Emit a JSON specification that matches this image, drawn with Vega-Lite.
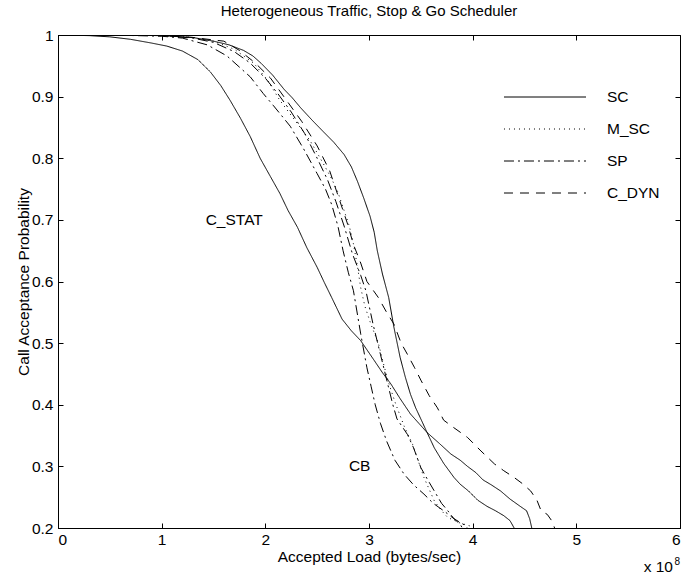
{
  "$schema": "https://vega.github.io/schema/vega-lite/v6.json",
  "width": 622,
  "height": 493,
  "autosize": {"type": "none"},
  "padding": {"left": 58, "top": 35, "right": 6, "bottom": 47},
  "background": "white",
  "config": {
    "font": "Liberation Sans",
    "view": {"stroke": "black", "strokeWidth": 1},
    "axis": {"grid": false, "domainColor": "black", "tickColor": "black", "labelColor": "black", "titleColor": "black", "labelFont": "Liberation Sans", "titleFont": "Liberation Sans", "labelFontSize": 15.5, "titleFontSize": 15.5, "titleFontWeight": "normal", "tickSize": -5, "domain": true}
  },
  "title": {"text": "Heterogeneous Traffic, Stop & Go Scheduler", "fontSize": 15, "fontWeight": "normal", "font": "Liberation Sans", "color": "black", "offset": 9, "anchor": "middle"},
  "datasets": {
    "curves": [
      {"series": "C_STAT", "x": 0, "y": 1}, {"series": "C_STAT", "x": 0.3, "y": 0.999}, {"series": "C_STAT", "x": 0.5, "y": 0.997}, {"series": "C_STAT", "x": 0.7, "y": 0.993}, {"series": "C_STAT", "x": 0.9, "y": 0.987}, {"series": "C_STAT", "x": 1.05, "y": 0.982}, {"series": "C_STAT", "x": 1.2, "y": 0.974}, {"series": "C_STAT", "x": 1.35, "y": 0.96}, {"series": "C_STAT", "x": 1.47, "y": 0.94}, {"series": "C_STAT", "x": 1.57, "y": 0.918}, {"series": "C_STAT", "x": 1.66, "y": 0.894}, {"series": "C_STAT", "x": 1.76, "y": 0.865}, {"series": "C_STAT", "x": 1.855, "y": 0.835}, {"series": "C_STAT", "x": 1.95, "y": 0.8}, {"series": "C_STAT", "x": 2.05, "y": 0.77}, {"series": "C_STAT", "x": 2.14, "y": 0.743}, {"series": "C_STAT", "x": 2.22, "y": 0.715}, {"series": "C_STAT", "x": 2.31, "y": 0.688}, {"series": "C_STAT", "x": 2.4, "y": 0.655}, {"series": "C_STAT", "x": 2.5, "y": 0.623}, {"series": "C_STAT", "x": 2.57, "y": 0.598}, {"series": "C_STAT", "x": 2.64, "y": 0.574}, {"series": "C_STAT", "x": 2.74, "y": 0.539}, {"series": "C_STAT", "x": 2.83, "y": 0.52}, {"series": "C_STAT", "x": 2.92, "y": 0.504}, {"series": "C_STAT", "x": 3.05, "y": 0.472}, {"series": "C_STAT", "x": 3.13, "y": 0.452}, {"series": "C_STAT", "x": 3.21, "y": 0.434}, {"series": "C_STAT", "x": 3.3, "y": 0.41}, {"series": "C_STAT", "x": 3.4, "y": 0.385}, {"series": "C_STAT", "x": 3.48, "y": 0.37}, {"series": "C_STAT", "x": 3.56, "y": 0.355}, {"series": "C_STAT", "x": 3.68, "y": 0.337}, {"series": "C_STAT", "x": 3.79, "y": 0.32}, {"series": "C_STAT", "x": 3.88, "y": 0.31}, {"series": "C_STAT", "x": 3.95, "y": 0.3}, {"series": "C_STAT", "x": 4.03, "y": 0.29}, {"series": "C_STAT", "x": 4.1, "y": 0.278}, {"series": "C_STAT", "x": 4.18, "y": 0.27}, {"series": "C_STAT", "x": 4.27, "y": 0.26}, {"series": "C_STAT", "x": 4.36, "y": 0.247}, {"series": "C_STAT", "x": 4.46, "y": 0.235}, {"series": "C_STAT", "x": 4.52, "y": 0.228}, {"series": "C_STAT", "x": 4.55, "y": 0.215}, {"series": "C_STAT", "x": 4.57, "y": 0.2},
      {"series": "SC", "x": 0, "y": 1}, {"series": "SC", "x": 0.5, "y": 1}, {"series": "SC", "x": 1.0, "y": 0.999}, {"series": "SC", "x": 1.3, "y": 0.996}, {"series": "SC", "x": 1.5, "y": 0.99}, {"series": "SC", "x": 1.65, "y": 0.984}, {"series": "SC", "x": 1.79, "y": 0.975}, {"series": "SC", "x": 1.88, "y": 0.966}, {"series": "SC", "x": 1.96, "y": 0.954}, {"series": "SC", "x": 2.07, "y": 0.935}, {"series": "SC", "x": 2.18, "y": 0.912}, {"series": "SC", "x": 2.26, "y": 0.898}, {"series": "SC", "x": 2.34, "y": 0.882}, {"series": "SC", "x": 2.45, "y": 0.862}, {"series": "SC", "x": 2.56, "y": 0.843}, {"series": "SC", "x": 2.66, "y": 0.826}, {"series": "SC", "x": 2.76, "y": 0.806}, {"series": "SC", "x": 2.83, "y": 0.786}, {"series": "SC", "x": 2.89, "y": 0.762}, {"series": "SC", "x": 2.95, "y": 0.735}, {"series": "SC", "x": 3.01, "y": 0.706}, {"series": "SC", "x": 3.05, "y": 0.68}, {"series": "SC", "x": 3.08, "y": 0.65}, {"series": "SC", "x": 3.13, "y": 0.612}, {"series": "SC", "x": 3.19, "y": 0.574}, {"series": "SC", "x": 3.24, "y": 0.526}, {"series": "SC", "x": 3.3, "y": 0.477}, {"series": "SC", "x": 3.35, "y": 0.445}, {"series": "SC", "x": 3.4, "y": 0.417}, {"series": "SC", "x": 3.45, "y": 0.395}, {"series": "SC", "x": 3.5, "y": 0.377}, {"series": "SC", "x": 3.56, "y": 0.355}, {"series": "SC", "x": 3.63, "y": 0.33}, {"series": "SC", "x": 3.72, "y": 0.305}, {"series": "SC", "x": 3.82, "y": 0.282}, {"series": "SC", "x": 3.88, "y": 0.271}, {"series": "SC", "x": 3.96, "y": 0.26}, {"series": "SC", "x": 4.05, "y": 0.245}, {"series": "SC", "x": 4.14, "y": 0.235}, {"series": "SC", "x": 4.22, "y": 0.228}, {"series": "SC", "x": 4.3, "y": 0.22}, {"series": "SC", "x": 4.36, "y": 0.212}, {"series": "SC", "x": 4.4, "y": 0.2},
      {"series": "M_SC", "x": 0, "y": 1}, {"series": "M_SC", "x": 0.5, "y": 1}, {"series": "M_SC", "x": 1.0, "y": 0.999}, {"series": "M_SC", "x": 1.3, "y": 0.996}, {"series": "M_SC", "x": 1.5, "y": 0.99}, {"series": "M_SC", "x": 1.7, "y": 0.977}, {"series": "M_SC", "x": 1.89, "y": 0.954}, {"series": "M_SC", "x": 2.02, "y": 0.927}, {"series": "M_SC", "x": 2.14, "y": 0.894}, {"series": "M_SC", "x": 2.31, "y": 0.856}, {"series": "M_SC", "x": 2.43, "y": 0.829}, {"series": "M_SC", "x": 2.53, "y": 0.8}, {"series": "M_SC", "x": 2.63, "y": 0.77}, {"series": "M_SC", "x": 2.7, "y": 0.745}, {"series": "M_SC", "x": 2.76, "y": 0.715}, {"series": "M_SC", "x": 2.81, "y": 0.69}, {"series": "M_SC", "x": 2.85, "y": 0.661}, {"series": "M_SC", "x": 2.89, "y": 0.623}, {"series": "M_SC", "x": 2.92, "y": 0.59}, {"series": "M_SC", "x": 2.96, "y": 0.56}, {"series": "M_SC", "x": 3.02, "y": 0.53}, {"series": "M_SC", "x": 3.09, "y": 0.5}, {"series": "M_SC", "x": 3.15, "y": 0.46}, {"series": "M_SC", "x": 3.2, "y": 0.43}, {"series": "M_SC", "x": 3.26, "y": 0.4}, {"series": "M_SC", "x": 3.34, "y": 0.365}, {"series": "M_SC", "x": 3.42, "y": 0.336}, {"series": "M_SC", "x": 3.53, "y": 0.282}, {"series": "M_SC", "x": 3.63, "y": 0.244}, {"series": "M_SC", "x": 3.7, "y": 0.228}, {"series": "M_SC", "x": 3.76, "y": 0.217}, {"series": "M_SC", "x": 3.88, "y": 0.208}, {"series": "M_SC", "x": 3.98, "y": 0.203}, {"series": "M_SC", "x": 4.0, "y": 0.2},
      {"series": "SP", "x": 0, "y": 1}, {"series": "SP", "x": 0.5, "y": 1}, {"series": "SP", "x": 1.0, "y": 0.999}, {"series": "SP", "x": 1.3, "y": 0.995}, {"series": "SP", "x": 1.5, "y": 0.988}, {"series": "SP", "x": 1.7, "y": 0.973}, {"series": "SP", "x": 1.85, "y": 0.955}, {"series": "SP", "x": 2.0, "y": 0.93}, {"series": "SP", "x": 2.12, "y": 0.905}, {"series": "SP", "x": 2.25, "y": 0.875}, {"series": "SP", "x": 2.38, "y": 0.84}, {"series": "SP", "x": 2.5, "y": 0.8}, {"series": "SP", "x": 2.6, "y": 0.765}, {"series": "SP", "x": 2.68, "y": 0.73}, {"series": "SP", "x": 2.76, "y": 0.69}, {"series": "SP", "x": 2.84, "y": 0.645}, {"series": "SP", "x": 2.92, "y": 0.61}, {"series": "SP", "x": 2.97, "y": 0.585}, {"series": "SP", "x": 3.04, "y": 0.53}, {"series": "SP", "x": 3.11, "y": 0.482}, {"series": "SP", "x": 3.18, "y": 0.434}, {"series": "SP", "x": 3.23, "y": 0.4}, {"series": "SP", "x": 3.27, "y": 0.377}, {"series": "SP", "x": 3.37, "y": 0.352}, {"series": "SP", "x": 3.43, "y": 0.33}, {"series": "SP", "x": 3.5, "y": 0.298}, {"series": "SP", "x": 3.56, "y": 0.28}, {"series": "SP", "x": 3.63, "y": 0.26}, {"series": "SP", "x": 3.7, "y": 0.24}, {"series": "SP", "x": 3.76, "y": 0.228}, {"series": "SP", "x": 3.82, "y": 0.215}, {"series": "SP", "x": 3.88, "y": 0.206}, {"series": "SP", "x": 3.9, "y": 0.2},
      {"series": "CB", "x": 0, "y": 1}, {"series": "CB", "x": 0.5, "y": 1}, {"series": "CB", "x": 1.0, "y": 0.998}, {"series": "CB", "x": 1.2, "y": 0.995}, {"series": "CB", "x": 1.44, "y": 0.984}, {"series": "CB", "x": 1.63, "y": 0.966}, {"series": "CB", "x": 1.855, "y": 0.932}, {"series": "CB", "x": 1.98, "y": 0.905}, {"series": "CB", "x": 2.08, "y": 0.885}, {"series": "CB", "x": 2.24, "y": 0.852}, {"series": "CB", "x": 2.37, "y": 0.815}, {"series": "CB", "x": 2.5, "y": 0.775}, {"series": "CB", "x": 2.58, "y": 0.75}, {"series": "CB", "x": 2.64, "y": 0.725}, {"series": "CB", "x": 2.7, "y": 0.69}, {"series": "CB", "x": 2.75, "y": 0.65}, {"series": "CB", "x": 2.8, "y": 0.615}, {"series": "CB", "x": 2.85, "y": 0.585}, {"series": "CB", "x": 2.92, "y": 0.515}, {"series": "CB", "x": 2.98, "y": 0.46}, {"series": "CB", "x": 3.02, "y": 0.43}, {"series": "CB", "x": 3.06, "y": 0.4}, {"series": "CB", "x": 3.11, "y": 0.37}, {"series": "CB", "x": 3.17, "y": 0.341}, {"series": "CB", "x": 3.25, "y": 0.31}, {"series": "CB", "x": 3.34, "y": 0.287}, {"series": "CB", "x": 3.43, "y": 0.27}, {"series": "CB", "x": 3.53, "y": 0.255}, {"series": "CB", "x": 3.62, "y": 0.24}, {"series": "CB", "x": 3.72, "y": 0.228}, {"series": "CB", "x": 3.82, "y": 0.215}, {"series": "CB", "x": 3.92, "y": 0.205}, {"series": "CB", "x": 3.95, "y": 0.2},
      {"series": "C_DYN", "x": 0, "y": 1}, {"series": "C_DYN", "x": 0.5, "y": 1}, {"series": "C_DYN", "x": 1.0, "y": 0.999}, {"series": "C_DYN", "x": 1.3, "y": 0.996}, {"series": "C_DYN", "x": 1.6, "y": 0.99}, {"series": "C_DYN", "x": 1.75, "y": 0.975}, {"series": "C_DYN", "x": 1.9, "y": 0.955}, {"series": "C_DYN", "x": 2.05, "y": 0.93}, {"series": "C_DYN", "x": 2.2, "y": 0.895}, {"series": "C_DYN", "x": 2.35, "y": 0.86}, {"series": "C_DYN", "x": 2.5, "y": 0.82}, {"series": "C_DYN", "x": 2.62, "y": 0.78}, {"series": "C_DYN", "x": 2.72, "y": 0.73}, {"series": "C_DYN", "x": 2.79, "y": 0.695}, {"series": "C_DYN", "x": 2.85, "y": 0.66}, {"series": "C_DYN", "x": 2.92, "y": 0.63}, {"series": "C_DYN", "x": 2.98, "y": 0.6}, {"series": "C_DYN", "x": 3.09, "y": 0.574}, {"series": "C_DYN", "x": 3.17, "y": 0.55}, {"series": "C_DYN", "x": 3.24, "y": 0.531}, {"series": "C_DYN", "x": 3.31, "y": 0.5}, {"series": "C_DYN", "x": 3.37, "y": 0.482}, {"series": "C_DYN", "x": 3.44, "y": 0.46}, {"series": "C_DYN", "x": 3.5, "y": 0.44}, {"series": "C_DYN", "x": 3.58, "y": 0.415}, {"series": "C_DYN", "x": 3.66, "y": 0.395}, {"series": "C_DYN", "x": 3.72, "y": 0.375}, {"series": "C_DYN", "x": 3.8, "y": 0.365}, {"series": "C_DYN", "x": 3.95, "y": 0.347}, {"series": "C_DYN", "x": 4.08, "y": 0.325}, {"series": "C_DYN", "x": 4.21, "y": 0.304}, {"series": "C_DYN", "x": 4.3, "y": 0.293}, {"series": "C_DYN", "x": 4.4, "y": 0.282}, {"series": "C_DYN", "x": 4.48, "y": 0.272}, {"series": "C_DYN", "x": 4.56, "y": 0.26}, {"series": "C_DYN", "x": 4.62, "y": 0.245}, {"series": "C_DYN", "x": 4.66, "y": 0.228}, {"series": "C_DYN", "x": 4.72, "y": 0.222}, {"series": "C_DYN", "x": 4.77, "y": 0.21}, {"series": "C_DYN", "x": 4.79, "y": 0.2}
    ],
    "notes": [
      {"label": "C_STAT", "x": 1.7, "y": 0.699},
      {"label": "CB", "x": 2.91, "y": 0.3}
    ]
  },
  "layer": [
    {
      "data": {"name": "curves"},
      "mark": {"type": "line", "color": "black", "strokeWidth": 1, "clip": true},
      "encoding": {
        "x": {"field": "x", "type": "quantitative", "scale": {"domain": [0, 6], "nice": false, "zero": false},
              "axis": {"orient": "bottom", "values": [0, 1, 2, 3, 4, 5, 6], "format": "d", "labelPadding": 9, "title": "Accepted Load (bytes/sec)", "titlePadding": 2}},
        "y": {"field": "y", "type": "quantitative", "scale": {"domain": [0.2, 1], "nice": false, "zero": false},
              "axis": {"orient": "left", "values": [0.2, 0.3, 0.4, 0.5, 0.6, 0.7, 0.8, 0.9, 1], "labelExpr": "datum.value == 1 ? '1' : format(datum.value, '.1f')", "labelPadding": 10, "title": "Call Acceptance Probability", "titlePadding": 0}},
        "strokeDash": {"field": "series", "type": "nominal",
          "scale": {"domain": ["SC", "M_SC", "SP", "C_DYN", "C_STAT", "CB"], "range": [[1, 0], [1, 4], [10, 4, 2, 4], [9, 7], [1, 0], [10, 4, 2, 4]]},
          "legend": {"values": ["SC", "M_SC", "SP", "C_DYN"], "title": null, "orient": "none", "legendX": 478, "legendY": 53, "symbolType": "M-5,0H5", "symbolSize": 269, "symbolStrokeWidth": 1, "symbolStrokeColor": "black", "labelOffset": 53, "labelFontSize": 15.5, "labelFont": "Liberation Sans", "labelColor": "black", "rowPadding": 14, "padding": 0}}
      }
    },
    {
      "data": {"name": "notes"},
      "mark": {"type": "text", "fontSize": 15.5, "font": "Liberation Sans", "color": "black", "align": "center", "baseline": "middle"},
      "encoding": {
        "x": {"field": "x", "type": "quantitative", "axis": {"orient": "top", "values": [0, 1, 2, 3, 4, 5, 6], "labels": false, "title": null, "domain": false}},
        "y": {"field": "y", "type": "quantitative", "axis": {"orient": "right", "values": [0.2, 0.3, 0.4, 0.5, 0.6, 0.7, 0.8, 0.9, 1], "labels": false, "title": null, "domain": false}},
        "text": {"field": "label"}
      }
    },
    {
      "data": {"values": [{}]},
      "mark": {"type": "text", "text": "x 10", "fontSize": 15.5, "font": "Liberation Sans", "color": "black", "align": "right", "baseline": "alphabetic", "dx": -7, "dy": 44},
      "encoding": {"x": {"datum": 6, "axis": null}, "y": {"datum": 0.2, "axis": null}}
    },
    {
      "data": {"values": [{}]},
      "mark": {"type": "text", "text": "8", "fontSize": 10, "font": "Liberation Sans", "color": "black", "align": "right", "baseline": "alphabetic", "dx": 0, "dy": 37},
      "encoding": {"x": {"datum": 6, "axis": null}, "y": {"datum": 0.2, "axis": null}}
    }
  ],
  "resolve": {"axis": {"x": "independent", "y": "independent"}}
}
